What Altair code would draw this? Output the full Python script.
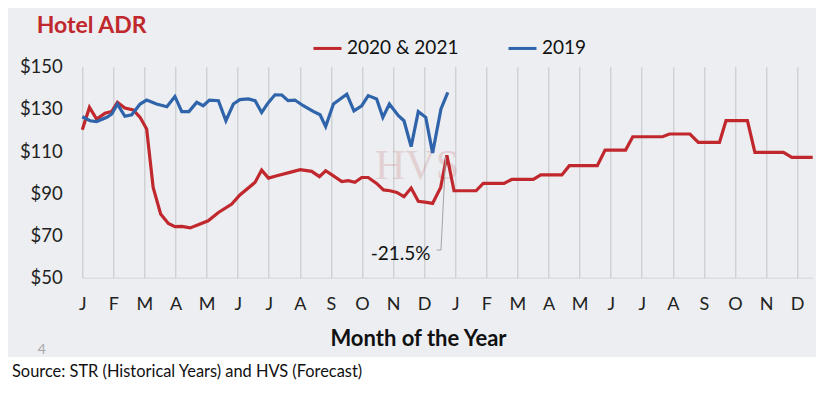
import altair as alt
import pandas as pd

# ---------------- data ----------------
month_labels = ["J", "F", "M", "A", "M", "J", "J", "A", "S", "O", "N", "D",
                "J", "F", "M", "A", "M", "J", "J", "A", "S", "O", "N", "D"]
y_ticks = [50, 70, 90, 110, 130, 150]
series_names = ["2020 & 2021", "2019"]
series_colors = ["#c0282d", "#2f64ab"]

# x = months since Jan 2020 (2019 plotted on the same calendar)
x_2020_21 = [0, 0.23, 0.46, 0.73, 0.95, 1.13, 1.37, 1.64, 1.86, 2.07, 2.28, 2.52, 2.77, 2.98,
             3.20, 3.47, 3.73, 4.05, 4.38, 4.81, 5.07, 5.56, 5.77, 5.99, 6.26, 6.68, 7.01,
             7.38, 7.63, 7.83, 8.08, 8.35, 8.56, 8.77, 8.99, 9.20, 9.47, 9.69, 9.90, 10.12,
             10.35, 10.58, 10.81, 11.08, 11.27, 11.53, 11.73, 11.96, 12.67, 12.90, 13.57,
             13.82, 14.51, 14.75, 15.43, 15.67, 16.57, 16.82, 17.48, 17.71, 18.67, 18.89,
             19.55, 19.82, 20.50, 20.71, 21.40, 21.64, 22.56, 22.83, 23.5]
adr_2020_21 = [120.1, 130.7, 125.2, 127.9, 128.8, 133.1, 130.4, 129.5, 126.0, 120.5, 92.8,
               80.2, 75.7, 74.2, 74.3, 73.6, 75.1, 77.0, 80.9, 84.9, 89.2, 95.2, 101.0, 97.2,
               98.3, 99.9, 101.2, 100.4, 97.9, 100.7, 98.3, 95.6, 96.0, 95.2, 97.5, 97.5, 94.7,
               91.6, 91.2, 90.4, 88.4, 92.5, 86.2, 85.7, 85.2, 92.8, 108.0, 91.2, 91.2, 94.7,
               94.7, 96.6, 96.6, 98.7, 98.7, 103.1, 103.1, 110.5, 110.5, 116.8, 116.8, 118.1,
               118.1, 114.1, 114.1, 124.4, 124.4, 109.4, 109.4, 107.0, 107.0]

x_2019 = [0, 0.25, 0.46, 0.79, 0.95, 1.13, 1.37, 1.59, 1.86, 2.07, 2.39, 2.72, 2.98, 3.20,
          3.43, 3.68, 3.89, 4.09, 4.38, 4.62, 4.86, 5.07, 5.34, 5.56, 5.77, 5.99, 6.20, 6.42,
          6.62, 6.84, 7.11, 7.43, 7.65, 7.83, 8.08, 8.51, 8.74, 8.99, 9.20, 9.47, 9.67, 9.88,
          10.17, 10.35, 10.58, 10.81, 11.05, 11.27, 11.54, 11.76]
adr_2019 = [126.3, 124.4, 124.0, 126.0, 127.6, 132.3, 126.5, 127.2, 132.3, 134.2, 132.3,
            131.0, 135.9, 128.7, 128.7, 133.1, 131.5, 134.2, 133.9, 124.4, 132.3, 134.4,
            134.7, 133.9, 128.3, 133.1, 136.7, 136.6, 133.9, 134.2, 131.5, 128.8, 127.2,
            121.6, 132.3, 137.0, 129.1, 131.5, 136.3, 134.7, 126.0, 132.3, 126.8, 124.4,
            112.1, 128.7, 126.0, 109.1, 130.0, 137.8]

annot_text = ["-21.5%"]
annot_x = [10.24]
annot_y = [61.2]
leader_x = [11.40, 11.54, 11.69]
leader_y = [63.1, 63.1, 107.3]

watermark_text = ["HVS"]
watermark_x = [10.77]
watermark_y = [103.0]

title_text = ["Hotel ADR"]
source_text = ["Source: STR (Historical Years) and HVS (Forecast)"]
page_text = ["4"]

# ---------------- build ----------------
FONT = "Lato"
W, H = 730.4, 211

lines_df = pd.concat([
    pd.DataFrame({"x": x_2020_21, "y": adr_2020_21, "series": series_names[0], "ord": range(len(x_2020_21))}),
    pd.DataFrame({"x": x_2019, "y": adr_2019, "series": series_names[1], "ord": range(len(x_2019))}),
], ignore_index=True)

xscale = alt.Scale(domain=[0, 23.5], nice=False, zero=False)
yscale = alt.Scale(domain=[50, 150], nice=False, zero=False)

label_expr = "[" + ",".join("'%s'" % m for m in month_labels) + "][datum.value]"
xaxis = alt.Axis(values=list(range(len(month_labels))), labelExpr=label_expr,
                 grid=True, gridColor="#c3c5c9", gridWidth=1, ticks=False,
                 domain=True, domainColor="#d3d5d9", domainWidth=1,
                 labelFont=FONT, labelFontSize=18, labelColor="#222222",
                 labelPadding=18, labelAngle=0, labelFlush=False, labelOverlap=False,
                 title="Month of the Year", titleFont=FONT, titleFontSize=22,
                 titleFontWeight="bold", titleColor="#111111",
                 titleX=335.7, titleY=60.3, titleBaseline="middle", titleAlign="center")
yaxis = alt.Axis(values=y_ticks, labelExpr="'$' + datum.value", grid=False, ticks=False,
                 domain=False, labelFont=FONT, labelFontSize=18.5, labelColor="#222222",
                 labelPadding=20, labelFlush=False, title=None)

def xe():
    return alt.X("x:Q", scale=xscale, axis=xaxis)

def ye():
    return alt.Y("y:Q", scale=yscale, axis=yaxis)

one = pd.DataFrame({"a": [0]})

bg_band = alt.Chart(one).mark_rect(color="white").encode(
    x=alt.value(-80), x2=alt.value(740), y=alt.value(290.3), y2=alt.value(330))

watermark = alt.Chart(pd.DataFrame({"x": watermark_x, "y": watermark_y, "t": watermark_text})).mark_text(
    font="Liberation Serif", fontSize=42, color="#c46a6a", opacity=0.22, align="center", baseline="middle"
).encode(x=xe(), y=ye(), text="t:N")

lines = alt.Chart(lines_df).mark_line(strokeWidth=3.2).encode(
    x=xe(), y=ye(),
    order="ord:Q",
    color=alt.Color("series:N",
                    scale=alt.Scale(domain=series_names, range=series_colors),
                    sort=series_names,
                    legend=alt.Legend(title=None, orient="none", legendX=229.7, legendY=-34,
                                      direction="horizontal", symbolType="stroke",
                                      symbolStrokeWidth=3, symbolSize=784,
                                      labelFont=FONT, labelFontSize=19, labelColor="#111111",
                                      labelOffset=4, columnPadding=43, padding=0)),
)

leader = alt.Chart(pd.DataFrame({"x": leader_x, "y": leader_y, "ord": range(len(leader_x))})).mark_line(
    color="#a3a3a3", strokeWidth=1).encode(x=xe(), y=ye(), order="ord:Q")

annot = alt.Chart(pd.DataFrame({"x": annot_x, "y": annot_y, "t": annot_text})).mark_text(
    font=FONT, fontSize=19, color="#111111", align="center", baseline="middle"
).encode(x=xe(), y=ye(), text="t:N")

title = alt.Chart(pd.DataFrame({"t": title_text})).mark_text(
    font=FONT, fontSize=23, fontWeight="bold", color="#c0282d", align="left", baseline="alphabetic"
).encode(x=alt.value(-45.6), y=alt.value(-33.4), text="t:N")

source = alt.Chart(pd.DataFrame({"t": source_text})).mark_text(
    font=FONT, fontSize=16.4, color="#111111", align="left", baseline="middle"
).encode(x=alt.value(-70.3), y=alt.value(305), text="t:N")

page = alt.Chart(pd.DataFrame({"t": page_text})).mark_text(
    font=FONT, fontSize=14, color="#a6a6a6", align="center", baseline="middle"
).encode(x=alt.value(-40.6), y=alt.value(283.3), text="t:N")

chart = alt.layer(bg_band, watermark, lines, leader, annot, title, source, page).properties(
    width=W, height=H,
    autosize=alt.AutoSizeParams(type="none"),
    padding={"left": 74.3, "top": 58.7, "right": 3.3, "bottom": 108.3},
).configure(background="#eceef1").configure_view(stroke=None)

chart.save("out.html", embed_options={"renderer": "svg", "actions": False})
